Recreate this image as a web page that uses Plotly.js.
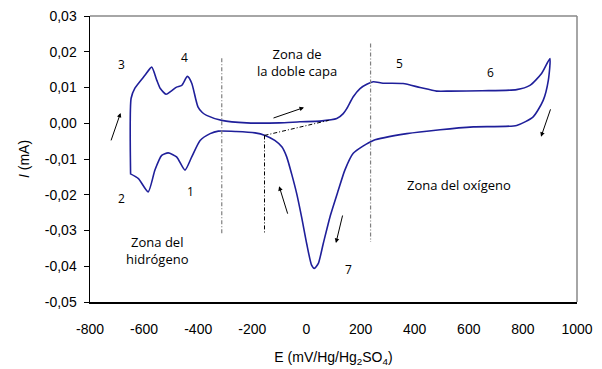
<!DOCTYPE html>
<html>
<head>
<meta charset="utf-8">
<script src="https://cdn.plot.ly/plotly-3.0.1.min.js"></script>
<style>html,body{margin:0;padding:0;background:#fff;}#chart{width:602px;height:369px;}</style>
</head>
<body>
<div id="chart"></div>
<script>
// Anodic (forward) sweep, mV vs Hg/Hg2SO4 and mA
var potentialAnodic = [-650, -648, -634, -597, -572, -553, -540, -519, -500, -480, -461, -440, -424, -410, -401, -385, -369, -313, -221, -100, -24, 50, 112, 136, 149, 173, 198, 223, 247, 283, 357, 420, 481, 531, 650, 777, 826, 869, 900];
var currentAnodic   = [-0.0141, 0.0070, 0.0098, 0.0134, 0.0157, 0.0120, 0.0097, 0.0081, 0.0090, 0.0101, 0.0106, 0.0131, 0.0112, 0.0070, 0.0046, 0.0030, 0.0022, 0.0008, 0.0001, 0.0001, 0.0004, 0.0006, 0.0013, 0.0027, 0.0041, 0.0074, 0.0097, 0.0109, 0.0116, 0.0112, 0.0111, 0.0100, 0.0090, 0.0090, 0.0091, 0.0094, 0.0106, 0.0139, 0.0181];
// Cathodic (reverse) sweep
var potentialCathodic = [894, 875, 838, 777, 617, 494, 371, 247, 173, 142, 118, 87, 62, 44, 29, 19, 1, -18, -36, -55, -73, -91, -117, -153, -190, -260, -326, -356, -393, -424, -449, -480, -511, -535, -560, -585, -621, -652];
var currentCathodic   = [0.0120, 0.0064, 0.0018, -0.0006, -0.0010, -0.0018, -0.0029, -0.0048, -0.0084, -0.0131, -0.0187, -0.0262, -0.0337, -0.0392, -0.0406, -0.0397, -0.0337, -0.0262, -0.0197, -0.0141, -0.0094, -0.0066, -0.0048, -0.0034, -0.0027, -0.0023, -0.0022, -0.0029, -0.0048, -0.0094, -0.0131, -0.0094, -0.0083, -0.0090, -0.0131, -0.0192, -0.0155, -0.0141];

var xTickVals = [-800, -600, -400, -200, 0, 200, 400, 600, 800, 1000];
var xTickText = ['-800', '-600', '-400', '-200', '0', '200', '400', '600', '800', '1000'];
var yTickVals = [-0.05, -0.04, -0.03, -0.02, -0.01, 0, 0.01, 0.02, 0.03];
var yTickText = ['-0,05', '-0,04', '-0,03', '-0,02', '-0,01', '0,00', '0,01', '0,02', '0,03'];

var peakLabels = ['1', '2', '3', '4', '5', '6', '7'];
var peakLabelE = [-427, -683, -683, -449, 343, 681, 157];
var peakLabelI = [-0.0192, -0.0211, 0.0165, 0.0185, 0.0167, 0.0143, -0.0408];

var zoneLabels = ['Zona de<br>la doble capa', 'Zona del oxígeno', 'Zona del<br>hidrógeno'];
var zoneLabelE = [-36, 565, -551];
var zoneLabelI = [0.0171, -0.0173, -0.0355];

var xs = potentialAnodic.concat(potentialCathodic);
var ys = currentAnodic.concat(currentCathodic);

var trace = {
  x: xs, y: ys, type: 'scatter', mode: 'lines',
  line: {color: '#1f1f9a', width: 1.6, shape: 'spline', smoothing: 0.6},
  hoverinfo: 'skip'
};

var labelFont = {family: 'Open Sans, sans-serif', size: 13, color: '#000'};
var annotations = [];
for (var i = 0; i < peakLabels.length; i++) {
  annotations.push({x: peakLabelE[i], y: peakLabelI[i], text: peakLabels[i], showarrow: false,
    font: {family: 'Open Sans, sans-serif', size: 12, color: '#000'}});
}
for (var j = 0; j < zoneLabels.length; j++) {
  annotations.push({x: zoneLabelE[j], y: zoneLabelI[j], text: zoneLabels[j], showarrow: false, font: labelFont});
}
// sweep direction arrows
var arrowE = [-687, -9, -101, 109, 867];
var arrowI = [0.0029, 0.0044, -0.0176, -0.0335, -0.0038];
var arrowAx = [-10, -32, 9, 7, 10];
var arrowAy = [29, 11, 29, -29, -29];
for (var k = 0; k < arrowE.length; k++) {
  annotations.push({x: arrowE[k], y: arrowI[k], ax: arrowAx[k], ay: arrowAy[k], text: '',
    showarrow: true, arrowhead: 2, arrowsize: 0.9, arrowwidth: 1, arrowcolor: '#000'});
}

var fineDashDot = '4px,2px,1px,2px';
var shapes = [
  {type: 'line', x0: -313, x1: -313, y0: 0.0182, y1: -0.0308, line: {color: '#808080', width: 1.2, dash: fineDashDot}},
  {type: 'line', x0: -155, x1: -155, y0: -0.0034, y1: -0.0308, line: {color: '#000', width: 1, dash: fineDashDot}},
  {type: 'line', x0: 237, x1: 237, y0: 0.0223, y1: -0.0332, line: {color: '#808080', width: 1.2, dash: fineDashDot}},
  {type: 'line', x0: -155, x1: 82, y0: -0.0034, y1: 0.0008, line: {color: '#000', width: 1, dash: fineDashDot}},
  {type: 'line', xref: 'paper', yref: 'paper', x0: 0, x1: 1, y0: 1, y1: 1, line: {color: '#888', width: 1.5}},
  {type: 'line', xref: 'paper', yref: 'paper', x0: 1, x1: 1, y0: 0, y1: 1, line: {color: '#888', width: 1.5}}
];

var tickFont = {family: 'Liberation Sans, Arial, sans-serif', size: 14, color: '#000'};
var layout = {
  width: 602, height: 369,
  margin: {l: 90, r: 25, t: 16, b: 67},
  paper_bgcolor: '#fff', plot_bgcolor: '#fff',
  showlegend: false,
  xaxis: {
    range: [-800, 1000], tickvals: xTickVals, ticktext: xTickText,
    showgrid: false, zeroline: false, showline: true, linecolor: '#000', linewidth: 1.5,
    ticks: '', ticklabelstandoff: 14, tickfont: tickFont,
    title: {text: 'E (mV/Hg/Hg<sub>2</sub>SO<sub>4</sub>)', font: tickFont, standoff: 16}
  },
  yaxis: {
    range: [-0.05, 0.03], tickvals: yTickVals, ticktext: yTickText,
    showgrid: false, zeroline: false, showline: true, linecolor: '#000', linewidth: 1.5,
    ticks: 'outside', ticklen: 5, tickcolor: '#000', tickfont: tickFont, ticklabelstandoff: 4,
    title: {text: '<i>I</i> (mA)', font: tickFont, standoff: 12}
  },
  shapes: shapes,
  annotations: annotations
};
Plotly.newPlot('chart', [trace], layout, {staticPlot: true});
</script>
</body>
</html>
